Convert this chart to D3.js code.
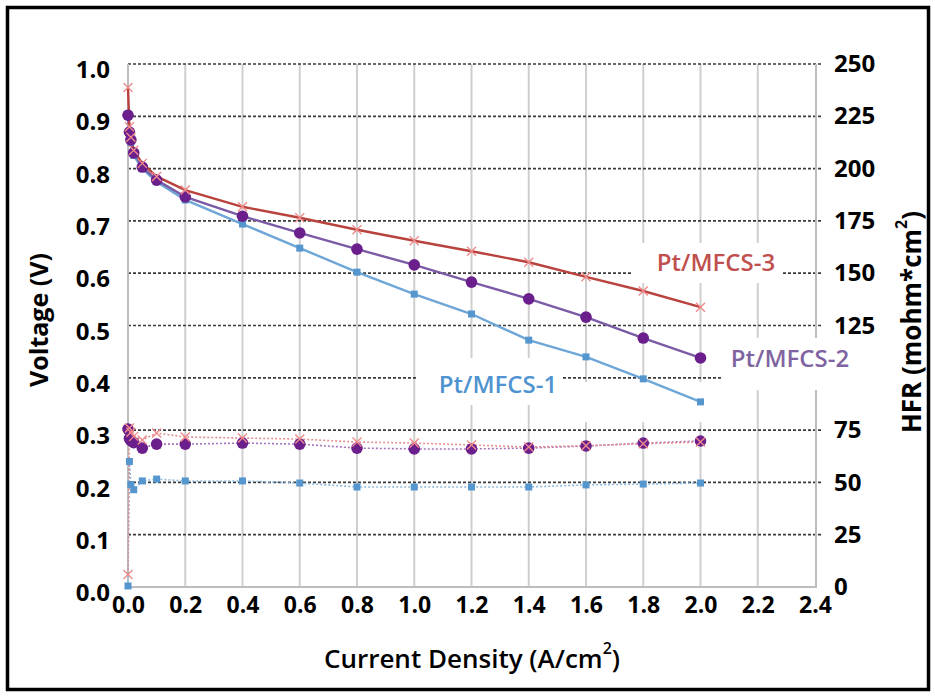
<!DOCTYPE html>
<html>
<head>
<meta charset="utf-8">
<script src="https://cdn.jsdelivr.net/npm/d3@7/dist/d3.min.js"></script>
<style>
html,body{margin:0;padding:0;background:#fff;}
svg{display:block;}
</style>
</head>
<body>
<svg id="chart" width="935" height="696"></svg>
<script>
// ---- data ----
const currentDensity = [0, 0.005, 0.01, 0.02, 0.05, 0.1, 0.2, 0.4, 0.6, 0.8, 1.0, 1.2, 1.4, 1.6, 1.8, 2.0];
const voltageMFCS3 = [0.955, 0.88, 0.86, 0.835, 0.81, 0.785, 0.759, 0.727, 0.706, 0.683, 0.662, 0.642, 0.621, 0.593, 0.566, 0.535];
const voltageMFCS2 = [0.902, 0.870, 0.855, 0.830, 0.803, 0.778, 0.746, 0.709, 0.677, 0.646, 0.616, 0.583, 0.551, 0.516, 0.476, 0.438];
const voltageMFCS1 = [0.905, 0.868, 0.850, 0.825, 0.800, 0.775, 0.740, 0.694, 0.648, 0.602, 0.560, 0.522, 0.472, 0.440, 0.398, 0.354];
const hfrMFCS3 = [6, 76, 74, 72, 70.3, 73.6, 71.7, 71.2, 70.7, 69.3, 68.8, 67.9, 66.9, 67.5, 68.5, 69.3];
const hfrMFCS2 = [75.5, 71, 70, 69, 66.4, 68.3, 68.3, 68.8, 68.3, 66.4, 66, 66, 66.4, 67.4, 68.8, 69.8];
const hfrMFCS1 = [0.5, 60, 49, 46.5, 50.7, 51.6, 50.7, 50.7, 49.7, 47.8, 47.8, 47.8, 47.8, 48.8, 49.2, 49.7];
const xTicks = [0, 0.2, 0.4, 0.6, 0.8, 1.0, 1.2, 1.4, 1.6, 1.8, 2.0, 2.2, 2.4];
const voltageTicks = [0, 0.1, 0.2, 0.3, 0.4, 0.5, 0.6, 0.7, 0.8, 0.9, 1.0];
// "100" is hidden behind the Pt/MFCS-2 label in the reference
const hfrTicks = [0, 25, 50, 75, 125, 150, 175, 200, 225, 250];
const seriesNames = ["Pt/MFCS-1", "Pt/MFCS-2", "Pt/MFCS-3"];

// ---- layout ----
const svg = d3.select("#chart");
const L = 128, R = 815, T = 64, B = 587;
const x = d3.scaleLinear().domain([0, 2.4]).range([L, R]);
const yV = d3.scaleLinear().domain([0, 1]).range([B, T]);
const yH = d3.scaleLinear().domain([0, 250]).range([B, T]);
const FONT = "'Open Sans', 'DejaVu Sans', sans-serif";

svg.append("rect").attr("width", 935).attr("height", 696).attr("fill", "#fff");

// vertical gridlines (solid light grey)
svg.append("g").selectAll("line").data(xTicks.slice(1, -1)).join("line")
  .attr("x1", d => x(d)).attr("x2", d => x(d)).attr("y1", T).attr("y2", B)
  .attr("stroke", "#cfcfcf").attr("stroke-width", 2);

// horizontal dashed gridlines
svg.append("g").selectAll("line").data(voltageTicks.slice(1)).join("line")
  .attr("x1", L).attr("x2", R + 7).attr("y1", d => yV(d)).attr("y2", d => yV(d))
  .attr("stroke", "#3a3a3a").attr("stroke-width", 1.7).attr("stroke-dasharray", "3,2");

// axis lines
svg.append("line").attr("x1", L).attr("x2", R + 2).attr("y1", B).attr("y2", B).attr("stroke", "#bdbdbd").attr("stroke-width", 2);
svg.append("line").attr("x1", L).attr("x2", L).attr("y1", T).attr("y2", B).attr("stroke", "#bdbdbd").attr("stroke-width", 2);
svg.append("line").attr("x1", R + 1).attr("x2", R + 1).attr("y1", T).attr("y2", B).attr("stroke", "#bdbdbd").attr("stroke-width", 2);

// axes via d3
const xAxis = svg.append("g").attr("transform", `translate(0,${B + 3})`)
  .call(d3.axisBottom(x).tickValues(xTicks).tickSize(0).tickFormat(d3.format(".1f")));
const yAxisL = svg.append("g").attr("transform", `translate(${L - 15},6)`)
  .call(d3.axisLeft(yV).tickValues(voltageTicks).tickSize(0).tickFormat(d3.format(".1f")));
const yAxisR = svg.append("g").attr("transform", `translate(${R + 16},0)`)
  .call(d3.axisRight(yH).tickValues(hfrTicks).tickSize(0).tickFormat(d3.format("d")));
[xAxis, yAxisL, yAxisR].forEach(g => {
  g.select(".domain").remove();
  g.selectAll("text").attr("font-family", FONT).attr("font-weight", 700)
    .attr("font-size", 24).attr("fill", "#000");
});
xAxis.selectAll("text").attr("font-size", 23).attr("dy", "0.85em");

// white label backgrounds
const boxes = [
  {x: 632, y: 243, w: 151, h: 40},
  {x: 722, y: 338, w: 160, h: 52},
  {x: 417, y: 358, w: 146, h: 47},
  {x: 563, y: 382, w: 158, h: 40}
];
svg.append("g").selectAll("rect").data(boxes).join("rect")
  .attr("x", d => d.x).attr("y", d => d.y).attr("width", d => d.w).attr("height", d => d.h)
  .attr("fill", "#fff");

// series definitions
const series = [
  {name: seriesNames[2], v: voltageMFCS3, h: hfrMFCS3, line: "#b9423d", hline: "#e48f8f", mark: "#f08a8a", shape: "x"},
  {name: seriesNames[1], v: voltageMFCS2, h: hfrMFCS2, line: "#7b5aa6", hline: "#a874bd", mark: "#6a1f8c", shape: "circle"},
  {name: seriesNames[0], v: voltageMFCS1, h: hfrMFCS1, line: "#6ea6d8", hline: "#8fbbe3", mark: "#5596cf", shape: "square"}
];
const lineV = d3.line().x(d => x(d[0])).y(d => yV(d[1]));
const lineH = d3.line().x(d => x(d[0])).y(d => yH(d[1]));

function drawMarkers(g, pts, s) {
  if (s.shape === "circle") {
    g.selectAll("circle").data(pts).join("circle")
      .attr("cx", d => d[0]).attr("cy", d => d[1]).attr("r", 5.8).attr("fill", s.mark);
  } else if (s.shape === "square") {
    g.selectAll("rect").data(pts).join("rect")
      .attr("x", d => d[0] - 3.5).attr("y", d => d[1] - 3.5).attr("width", 7).attr("height", 7)
      .attr("fill", s.mark);
  } else {
    g.selectAll("path").data(pts).join("path")
      .attr("d", d => `M${d[0]-4.5},${d[1]-4.5}L${d[0]+4.5},${d[1]+4.5}M${d[0]-4.5},${d[1]+4.5}L${d[0]+4.5},${d[1]-4.5}`)
      .attr("stroke", s.mark).attr("stroke-width", 1.4).attr("fill", "none");
  }
}

// HFR dotted lines (bottom layer)
series.slice().reverse().forEach(s => {
  const data = currentDensity.map((c, i) => [c, s.h[i]]);
  svg.append("path").datum(data).attr("d", lineH).attr("fill", "none")
    .attr("stroke", s.hline).attr("stroke-width", 1.6).attr("stroke-dasharray", "2,2");
});
series.slice().reverse().forEach(s => {
  const pts = currentDensity.map((c, i) => [x(c), yH(s.h[i])]);
  drawMarkers(svg.append("g"), pts, s);
});

// Voltage lines
series.slice().reverse().forEach(s => {
  const data = currentDensity.map((c, i) => [c, s.v[i]]);
  svg.append("path").datum(data).attr("d", lineV).attr("fill", "none")
    .attr("stroke", s.line).attr("stroke-width", 2.4);
});
series.slice().reverse().forEach(s => {
  const pts = currentDensity.map((c, i) => [x(c), yV(s.v[i])]);
  drawMarkers(svg.append("g"), pts, s);
});

// series labels
const labels = [
  {t: seriesNames[2], x: 716, y: 261, c: "#c0504d"},
  {t: seriesNames[1], x: 790, y: 357, c: "#8064a2"},
  {t: seriesNames[0], x: 498, y: 383, c: "#4f94d0"}
];
svg.append("g").selectAll("text").data(labels).join("text")
  .attr("x", d => d.x).attr("y", d => d.y).attr("text-anchor", "middle").attr("dominant-baseline", "central")
  .attr("font-family", FONT).attr("font-weight", 600).attr("font-size", 24).attr("fill", d => d.c)
  .text(d => d.t);

// axis titles
svg.append("text").attr("transform", "translate(38,320) rotate(-90)")
  .attr("text-anchor", "middle").attr("dominant-baseline", "central")
  .attr("font-family", FONT).attr("font-weight", 700).attr("font-size", 25).attr("fill", "#000")
  .text("Voltage (V)");
const ht = svg.append("text").attr("transform", "translate(911,322) rotate(-90)")
  .attr("text-anchor", "middle").attr("dominant-baseline", "central")
  .attr("font-family", FONT).attr("font-weight", 700).attr("font-size", 26).attr("fill", "#000");
ht.append("tspan").text("HFR (mohm*cm");
ht.append("tspan").attr("font-size", 16).attr("dy", -10).text("2");
ht.append("tspan").attr("dy", 10).text(")");
const xt = svg.append("text").attr("x", 472).attr("y", 658)
  .attr("text-anchor", "middle").attr("dominant-baseline", "central")
  .attr("font-family", FONT).attr("font-weight", 600).attr("font-size", 26).attr("fill", "#000");
xt.append("tspan").text("Current Density (A/cm");
xt.append("tspan").attr("font-size", 16).attr("dy", -10).text("2");
xt.append("tspan").attr("dy", 10).text(")");

// outer frame
svg.append("rect").attr("x", 7.5).attr("y", 7.5).attr("width", 921).attr("height", 682)
  .attr("fill", "none").attr("stroke", "#000").attr("stroke-width", 3.5);
</script>
</body>
</html>
